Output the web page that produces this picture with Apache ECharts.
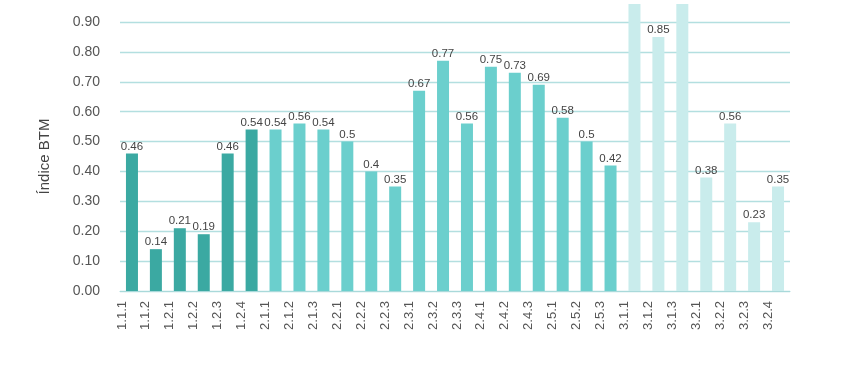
<!DOCTYPE html>
<html><head><meta charset="utf-8">
<script src="https://cdn.jsdelivr.net/npm/echarts@6/dist/echarts.min.js"></script>
<style>html,body{margin:0;padding:0;background:#fff}#c{width:850px;height:380px}</style>
</head><body><div id="c"></div>
<script>
const categories = ["1.1.1","1.1.2","1.2.1","1.2.2","1.2.3","1.2.4","2.1.1","2.1.2","2.1.3","2.2.1","2.2.2","2.2.3","2.3.1","2.3.2","2.3.3","2.4.1","2.4.2","2.4.3","2.5.1","2.5.2","2.5.3","3.1.1","3.1.2","3.1.3","3.2.1","3.2.2","3.2.3","3.2.4"];
const values = [0.46,0.14,0.21,0.19,0.46,0.54,0.54,0.56,0.54,0.5,0.4,0.35,0.67,0.77,0.56,0.75,0.73,0.69,0.58,0.5,0.42,0.96,0.85,0.96,0.38,0.56,0.23,0.35];
const groups = [1,1,1,1,1,1,2,2,2,2,2,2,2,2,2,2,2,2,2,2,2,3,3,3,3,3,3,3];
const groupColors = {1:"#3ba9a2",2:"#6bcfcd",3:"#c9ecec"};
const yTicks = [0,0.1,0.2,0.3,0.4,0.5,0.6,0.7,0.8,0.9];

const chart = echarts.init(document.getElementById('c'));
chart.setOption({
  animation:false,
  grid:{left:120,right:60,top:22,bottom:89},
  xAxis:{
    type:'category', data:categories,
    axisLine:{lineStyle:{color:'#a9d9da',width:1}},
    axisTick:{show:false},
    axisLabel:{rotate:90,color:'#555',fontFamily:'Liberation Sans',fontSize:13,margin:10,interval:0,
      formatter:v=>'{a|'+v+'}\n{b| }',
      rich:{a:{fontFamily:'Liberation Sans',fontSize:13,color:'#555',lineHeight:16},b:{fontSize:13,lineHeight:20}}}
  },
  yAxis:{
    type:'value', min:0, max:0.9, interval:0.1,
    name:'Índice BTM', nameLocation:'middle', nameGap:68, nameRotate:90,
    nameTextStyle:{color:'#444',fontFamily:'Liberation Sans',fontSize:15},
    axisLine:{show:false}, axisTick:{show:false},
    axisLabel:{color:'#555',fontFamily:'Liberation Sans',fontSize:14,margin:20,
      formatter:v=>v.toFixed(2)},
    splitLine:{lineStyle:{color:'#b3dfe0',width:1.3}}
  },
  series:[{
    type:'bar', clip:false, barWidth:12,
    data: values.map((v,i)=>({value:v,itemStyle:{color:groupColors[groups[i]]}})),
    label:{show:true,position:'top',distance:1,color:'#444',fontFamily:'Liberation Sans',fontSize:11.5,
      formatter:p=>String(p.value)}
  }]
});
</script></body></html>
